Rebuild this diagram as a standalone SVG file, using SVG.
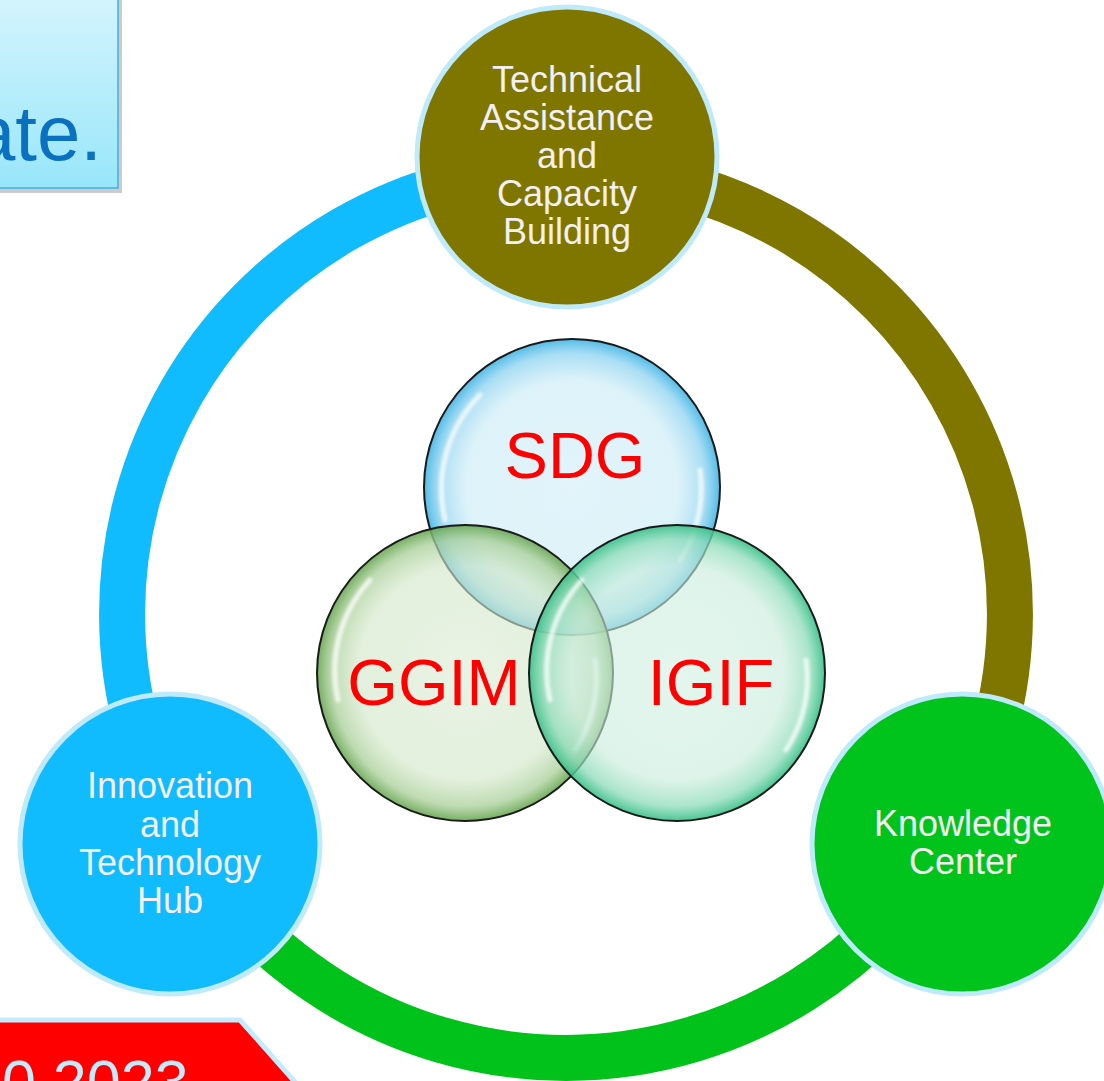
<svg xmlns="http://www.w3.org/2000/svg" width="1104" height="1081" viewBox="0 0 1104 1081">
<style>
.lbl{font-family:"Liberation Sans",Arial,sans-serif;font-size:36px;fill:#f3eff3;text-anchor:middle}
.venn{font-family:"Liberation Sans",Arial,sans-serif;font-size:65px;fill:#ff0000;text-anchor:middle}
.node{stroke:#bfeafc;stroke-width:5}
.bub{stroke:#1a1a1a;stroke-width:2}
.arc{fill:none;stroke-width:46}
.hl{fill:none;stroke:#ffffff;stroke-width:5;stroke-linecap:round;opacity:0.75}
</style>
<defs>
<linearGradient id="boxg" x1="0" y1="0" x2="0" y2="1">
<stop offset="0" stop-color="#d6f5fd"/>
<stop offset="1" stop-color="#98e6fa"/>
</linearGradient>
<radialGradient id="gS" cx="0.5" cy="0.5" r="0.5">
<stop offset="0" stop-color="#d0edf7" stop-opacity="0.6"/>
<stop offset="0.72" stop-color="#c8eaf6" stop-opacity="0.62"/>
<stop offset="0.9" stop-color="#8dd3f0" stop-opacity="0.75"/>
<stop offset="1" stop-color="#3fb4e4" stop-opacity="0.9"/>
</radialGradient>
<radialGradient id="gG" cx="0.5" cy="0.5" r="0.5">
<stop offset="0" stop-color="#daebd2" stop-opacity="0.6"/>
<stop offset="0.72" stop-color="#d2e7c8" stop-opacity="0.62"/>
<stop offset="0.9" stop-color="#a9cf98" stop-opacity="0.75"/>
<stop offset="1" stop-color="#66a650" stop-opacity="0.9"/>
</radialGradient>
<radialGradient id="gI" cx="0.5" cy="0.5" r="0.5">
<stop offset="0" stop-color="#d2f0e3" stop-opacity="0.6"/>
<stop offset="0.72" stop-color="#c9ecdc" stop-opacity="0.62"/>
<stop offset="0.9" stop-color="#8ddcb9" stop-opacity="0.75"/>
<stop offset="1" stop-color="#35bf86" stop-opacity="0.9"/>
</radialGradient>
<filter id="blur" x="-20%" y="-20%" width="140%" height="140%"><feGaussianBlur stdDeviation="1.5"/></filter>
</defs>

<g id="title-box">
<rect x="-10" y="-10" width="132" height="203" fill="#9a9a9a" opacity="0.5"/>
<rect x="-10" y="-10" width="128" height="198" fill="url(#boxg)" stroke="#3bb2e4" stroke-width="1.5"/>
<text x="102" y="160" font-family="'Liberation Sans',Arial,sans-serif" font-size="78" fill="#0a70c0" text-anchor="end">ate.</text>
</g>

<g id="connectors">
<path class="arc" stroke="#10bbfe" d="M566 170 A444 444 0 0 0 182.3 837.3"/>
<path class="arc" stroke="#7f7600" d="M566 170 A444 444 0 0 1 949.7 837.3"/>
<path class="arc" stroke="#00c21a" d="M182.3 837.3 A444 444 0 0 0 949.7 837.3"/>
</g>

<g id="node-technical">
<circle class="node" cx="567" cy="157" r="150" fill="#7f7600"/>
<text class="lbl" x="567" y="92">Technical</text>
<text class="lbl" x="567" y="130">Assistance</text>
<text class="lbl" x="567" y="168">and</text>
<text class="lbl" x="567" y="206">Capacity</text>
<text class="lbl" x="567" y="244">Building</text>
</g>

<g id="node-innovation">
<circle class="node" cx="170" cy="844" r="150" fill="#10bbfe"/>
<text class="lbl" x="170" y="798">Innovation</text>
<text class="lbl" x="170" y="837">and</text>
<text class="lbl" x="170" y="875">Technology</text>
<text class="lbl" x="170" y="913">Hub</text>
</g>

<g id="node-knowledge">
<circle class="node" cx="962" cy="844" r="150" fill="#00c41c"/>
<text class="lbl" x="963" y="836">Knowledge</text>
<text class="lbl" x="963" y="874">Center</text>
</g>

<g id="node-sdg">
<circle class="bub" cx="572" cy="487" r="148" fill="url(#gS)"/>
<path class="hl" filter="url(#blur)" d="M445 520 A134 134 0 0 1 480 395"/>
<path class="hl" filter="url(#blur)" d="M700 470 A130 130 0 0 1 680 560"/>
</g>

<g id="node-ggim">
<circle class="bub" cx="465" cy="673" r="148" fill="url(#gG)"/>
<path class="hl" filter="url(#blur)" d="M338 700 A134 134 0 0 1 370 580"/>
<path class="hl" filter="url(#blur)" d="M595 660 A130 130 0 0 1 575 750"/>
</g>

<g id="node-igif">
<circle class="bub" cx="677" cy="673" r="148" fill="url(#gI)"/>
<path class="hl" filter="url(#blur)" d="M550 700 A134 134 0 0 1 582 580"/>
<path class="hl" filter="url(#blur)" d="M806 660 A130 130 0 0 1 786 750"/>
</g>

<g id="venn-labels">
<text class="venn" x="575" y="478">SDG</text>
<text class="venn" x="434" y="705">GGIM</text>
<text class="venn" x="711" y="705">IGIF</text>
</g>

<g id="date-box">
<polygon points="-10,1020 240,1020 302,1090 -10,1090" fill="#ff0000" stroke="#c2ecfc" stroke-width="5"/>
<text x="2" y="1103" font-family="'Liberation Sans',Arial,sans-serif" font-size="61" fill="#c2ecfc">0 2023</text>
</g>
</svg>
